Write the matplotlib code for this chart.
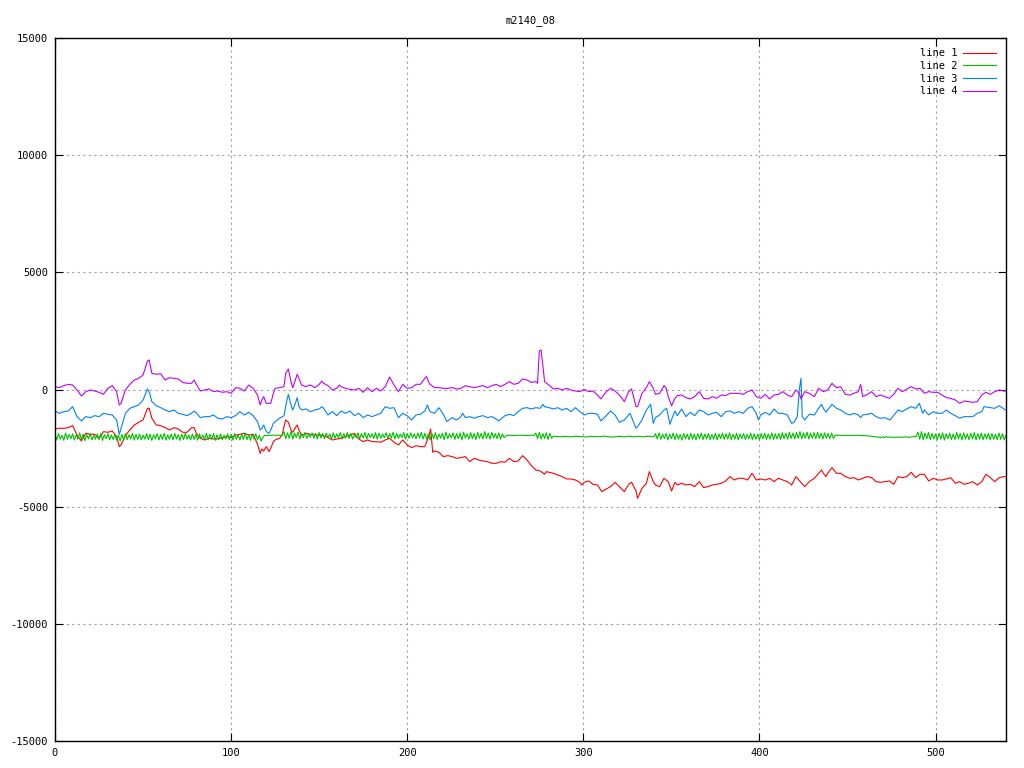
import matplotlib
matplotlib.use("Agg")
import matplotlib.pyplot as plt
import numpy as np

plt.rcParams['font.family'] = ['DejaVu Sans Mono']
plt.rcParams['font.size'] = 7.5
plt.rcParams['axes.unicode_minus'] = False

title = "m2140_08"
labels = ["line 1", "line 2", "line 3", "line 4"]
colors = ["#ff0000", "#00c000", "#0080ff", "#c000ff"]

# line 1 (red), (x, value)
red_pts = [
    (0, -1684), (2.5, -1656), (5, -1656), (7.5, -1628), (10, -1542), (12.5, -1940), (15, -2197),
    (17.5, -1869), (20, -1912), (22.5, -1912), (25, -2083), (27.5, -1798), (30, -1827),
    (32.5, -1770), (35, -2012), (36.5, -2438), (37.5, -2367), (40, -1969), (42.5, -1727),
    (45, -1514), (47.5, -1400), (50, -1300), (52.5, -803), (53.5, -803), (55, -1229),
    (57.5, -1514), (60, -1542), (62.5, -1628), (65, -1727), (67.5, -1628), (70, -1684),
    (72.5, -1827), (75, -1827), (77.5, -1628), (79, -1628), (80.5, -1912), (82.5, -2083),
    (85, -2154), (87.5, -2083), (90, -2111), (92.5, -2111), (95, -2054), (97.5, -2012),
    (100, -2054), (102.5, -1940),
    (105, -1912), (107.5, -1869), (110, -1940), (112.5, -1912), (115, -2339), (116.5, -2722),
    (117.5, -2538), (118.5, -2623), (120, -2438), (121.5, -2651), (122.5, -2509), (124, -2225),
    (125, -2154), (127.5, -2083), (129, -1940), (130, -1585), (131, -1300), (132.5, -1400),
    (134, -1727), (135, -1827), (136.5, -1628), (137.5, -1514), (138.5, -1727), (140, -1969),
    (142.5, -1869), (145, -1912), (147.5, -1940), (150, -1940), (152.5, -1969), (155, -2054),
    (157.5, -2154), (160, -2111), (162.5, -2083), (165, -2012), (167.5, -1940), (170, -1869),
    (172.5, -2111), (175, -2225), (177.5, -2154), (180, -2225), (182.5, -2225), (185, -2253),
    (187.5, -2154), (190, -2083), (192.5, -2253), (195, -2367), (197.5, -2154), (200, -2367),
    (202.5, -2481), (205, -2396), (207.5, -2438), (210, -2438), (212.5, -1940), (213.3, -1684),
    (214.5, -2680), (215.5, -2623), (218, -2680), (220.5, -2865), (223, -2822), (225.5, -2865),
    (228, -2936), (230.5, -2907), (233, -2865), (235.5, -3078), (238, -2936), (240.5, -3007),
    (243, -3050), (245.5, -3078), (248, -3149), (250.5, -3149), (253, -3078), (255.5, -3107),
    (258, -2936), (260.5, -3078), (263, -3050), (265.5, -2822), (268, -3007), (270.5, -3249),
    (273, -3434), (275.5, -3477), (278, -3619), (279, -3505), (280.5, -3533), (283, -3576),
    (285.5, -3647), (288, -3718), (290.5, -3818), (293, -3818), (295.5, -3861), (298, -3960),
    (299, -4073), (300.5, -3960), (303, -3903), (305.5, -4045), (308, -4073), (310.5, -4358),
    (313, -4244), (315.5, -4145), (318, -3960), (320.5, -4145),
    (323.3, -4358), (325.7, -4045), (327.4, -3960), (329.9, -4329), (330.8, -4642),
    (333.3, -4216), (335.8, -4002), (337.5, -3505), (339.7, -3932), (340.9, -4073),
    (343.3, -4145), (345.8, -3789), (348.2, -3932), (350.1, -4329), (352, -3960), (353.4, -4073),
    (355.8, -4002), (358.3, -4073), (360.7, -4045), (363.2, -4145), (365.9, -3932),
    (368.3, -4187), (370.8, -4145), (373.2, -4073), (375.7, -4045), (378.3, -4002),
    (380.8, -3903), (383.3, -3718), (385.7, -3861), (388.2, -3789), (390.8, -3789),
    (393.3, -3861), (395.8, -3576), (398.2, -3861), (400.7, -3818), (403.3, -3861),
    (405.8, -3789), (408.3, -3932), (410.7, -3789), (413.2, -3861), (415.8, -3932),
    (418.3, -4073), (420.7, -3718), (423.2, -3932), (425.7, -4145), (428.3, -3932),
    (431.2, -3789), (433.6, -3576), (435.3, -3434), (436.3, -3576), (437.8, -3718),
    (438.7, -3576), (441.2, -3334), (443.7, -3576), (446.1, -3576), (448.8, -3718),
    (451.2, -3789), (453.7, -3761), (456.1, -3861), (458.6, -3789), (461.3, -3718),
    (463.7, -3761), (466.2, -3932), (468.6, -3960), (471.1, -3932), (473.8, -3903),
    (476.2, -4045), (478.7, -3718), (481.1, -3761), (483.6, -3718), (486.2, -3533),
    (488.7, -3761), (491.2, -3619), (493.6, -3619), (496.1, -3903), (498.7, -3789),
    (501.2, -3861), (503.7, -3861), (506.1, -3818), (508.6, -3761), (511.2, -4002),
    (513.7, -3932), (516.2, -4045), (518.6, -4002), (521.1, -3932), (523.7, -4073),
    (526.2, -3932), (528.6, -3619), (531.1, -3761), (533.6, -3932), (536.2, -3761),
    (538.7, -3718), (540, -3718),
]

# line 2 (green), one value per step
green_y = [
    -1900, -2150, -1880, -2120, -1950, -2170, -1860, -2130, -1920, -2100, -1890, -2160, -1940, -2120, -1850, -2140, -1910, -2180, -1930, -2110,
    -1880, -2150, -1960, -2120, -1900, -2140, -1870, -2170, -1920, -2100, -1890, -2150, -1940, -2130, -1910, -2160, -1950, -2200, -1920, -2150,
    -1890, -2140, -1930, -2110, -1870, -2160, -1920, -2130, -1900, -2150, -1950, -2120, -1880, -2140, -1910, -2170, -1930, -2110, -1890, -2150,
    -1920, -2130, -1870, -2160, -1940, -2120, -1900, -2150, -1880, -2110, -1930, -2170, -1910, -2140, -1860, -2120, -1950, -2150, -1900, -2130,
    -1920, -2160, -1890, -2110, -1940, -2140, -1870, -2150, -1910, -2120, -1880, -2170, -1930, -2130, -1900, -2150, -1950, -2110, -1890, -2140,
    -1920, -2160, -1880, -2120, -1940, -2150, -1910, -2130, -1860, -2140, -1930, -2170, -1900, -2120, -1890, -2150, -1950, -2200, -2050,
    -1960, -1960, -1955, -1955, -1950, -1950, -1950, -1950, -1955, -1955, -1960,
    -1800, -2100, -1850, -2080, -1780, -2120, -1860, -2050, -1820, -2110, -1880, -2060, -1830, -2090, -1900, -2040, -1850, -2080, -1870, -2110,
    -1840, -2070, -1880, -2100, -1860, -2050, -1900, -2120, -1850, -2080, -1890, -2060, -1840, -2110, -1880, -2070, -1830, -2090, -1870, -2120,
    -1900, -2060, -1850, -2100, -1880, -2070, -1830, -2110, -1870, -2050, -1890, -2090, -1840, -2120, -1860, -2080, -1900, -2060, -1850, -2100,
    -1880, -2070, -1820, -2110, -1870, -2090, -1900, -2050, -1840, -2120, -1880, -2080, -1850, -2060, -1890, -2100, -1860, -2070, -1830, -2110,
    -1870, -2120, -1900, -2150, -1880, -2100, -1840, -2130, -1900, -2080, -1870, -2140, -1820, -2100, -1890, -2060, -1850, -2130, -1880, -2090,
    -1860, -2150, -1820, -2070, -1890, -2120, -1840, -2100, -1880, -2140, -1830, -2080, -1870, -2110, -1800, -2090, -1860, -2120, -1830, -2070,
    -1880, -2100, -1850, -2120, -1890, -2060, -1980,
    -1960, -1950, -1955, -1960, -1965, -1960, -1955, -1950, -1955, -1960, -1960, -1965, -1960, -1955, -1950, -1960,
    -1860, -2100, -1830, -2120, -1880, -2090, -1850, -2130, -1870, -2080, -1990,
    -2000, -2010, -2010, -2020, -2010, -2000, -2000, -2010, -2020, -2020, -2010, -2000, -1990, -2000, -2010, -2010, -2020, -2030, -2020, -2010,
    -2000, -2000, -2010, -2010, -2020, -2010, -2000, -1990, -1990, -2000, -2010, -2020, -2030, -2030, -2020, -2010, -2000, -2000, -2010, -2020,
    -2010, -2000, -1990, -2000, -2010, -2020, -2010, -2000, -2000, -2010, -2020, -2010, -2000, -1990, -2000, -2010, -2020,
    -1880, -2110, -1850, -2130, -1900, -2090, -1870, -2150, -1910, -2100, -1860, -2140, -1890, -2120, -1920, -2160, -1880, -2110, -1900, -2140,
    -1870, -2120, -1910, -2150, -1890, -2100, -1860, -2130, -1900, -2110, -1880, -2140, -1920, -2120, -1870, -2150, -1900, -2100, -1860, -2130,
    -1890, -2110, -1850, -2140, -1910, -2120, -1870, -2150, -1900, -2100, -1880, -2130, -1920, -2110, -1860, -2140, -1890, -2120, -1910, -2150,
    -1880, -2100, -1870, -2130, -1900, -2120, -1850, -2140, -1890, -2110, -1880, -2130, -1840, -2100, -1870, -2120, -1820, -2090, -1860, -2110,
    -1830, -2080, -1800, -2100, -1850, -2070, -1820, -2110, -1860, -2080, -1840, -2100, -1830, -2090, -1870, -2110, -1850, -2080, -1880, -2100,
    -1860, -2090, -1950,
    -1950, -1955, -1960, -1960, -1965, -1960, -1955, -1960, -1960, -1965, -1960, -1960, -1955, -1960, -1965, -1970, -1970, -1975, -1980, -1990,
    -2000, -2010, -2020, -2030,
    -2030, -2060, -2020, -2050, -2010, -2040, -2030, -2030, -2040, -2040, -2030, -2030, -2040, -2040, -2030, -2020, -2030, -2040, -2030, -2020,
    -2010, -2000,
    -1820, -2120, -1800, -2150, -1860, -2100, -1830, -2140, -1880, -2110, -1900, -2150, -1870, -2120, -1850, -2160, -1890, -2100, -1860, -2140,
    -1900, -2130, -1830, -2110, -1880, -2150, -1850, -2120, -1900, -2140, -1870, -2110, -1840, -2150, -1890, -2120, -1860, -2140, -1900, -2110,
    -1870, -2150, -1880, -2120, -1910, -2140, -1860, -2130, -1890, -2150, -1950,
]
green_x = list(range(len(green_y)))

# line 3 (blue), (x, value)
blue_pts = [
    (0, -917), (2.5, -1016), (5, -945), (7.5, -917), (10, -732), (12.5, -1158), (15, -1343),
    (17.5, -1158), (20, -1201), (22.5, -1116), (25, -1158), (27.5, -1016), (30, -1059),
    (32.5, -1087), (35, -1300), (36.5, -1912), (37.5, -1656), (40, -1016), (42.5, -803),
    (45, -732), (47.5, -661), (50, -447), (52.5, 22), (53.5, -92), (55, -519), (57.5, -690),
    (60, -775), (62.5, -874), (65, -945), (67.5, -874), (70, -1016), (72.5, -1059), (75, -1116),
    (77.5, -1016), (79, -917), (80.5, -1016), (82.5, -1201), (85, -1158), (87.5, -1158),
    (90, -1087), (92.5, -1229), (95, -1258), (97.5, -1158), (100, -1201), (102.5, -1116),
    (105, -945), (107.5, -1087), (110, -973), (112.5, -1116), (115, -1371), (116.5, -1727),
    (117.5, -1656), (118.5, -1514), (120, -1798), (121.5, -1869), (122.5, -1727), (124, -1443),
    (125, -1371), (127.5, -1229), (130, -1116), (131.5, -519), (132.5, -206), (134, -661),
    (135, -874), (136.5, -590), (137.5, -348), (138.5, -732), (140, -874), (142.5, -831),
    (145, -945), (147.5, -874), (150, -831), (151.5, -732), (152.5, -803), (155, -1087),
    (157.5, -945), (160, -1116), (162.5, -917), (165, -1016), (167.5, -917), (170, -1116),
    (172.5, -1016), (175, -1201), (177.5, -1087), (180, -1158), (182.5, -1087), (185, -1016),
    (187.5, -732), (190, -803), (192.5, -775), (195, -1201), (197.5, -1016), (200, -1116),
    (202.5, -1300), (205, -1087), (207.5, -1059), (210, -917), (211.5, -661), (212.5, -874),
    (213, -945), (215.5, -1016), (218, -775), (220.5, -1059), (222.5, -1371), (225.5, -1201),
    (228, -1300), (230.5, -1158), (231.5, -1016), (233, -1201), (235.5, -1158), (238, -1229),
    (240.5, -1158), (243, -1116), (245.5, -1201), (248, -1158), (250.5, -1258), (252, -1343),
    (255.5, -1116), (258, -1059), (260.5, -1116), (263, -945), (265.5, -803), (268, -775),
    (270.5, -831), (273, -775), (275.5, -803), (277, -633), (278, -732), (280.5, -775),
    (283, -831), (285.5, -775), (288, -874), (290.5, -803), (293, -945), (295.5, -775),
    (298, -945), (300.5, -1087), (303, -1016), (305.5, -1016), (308, -1059), (310, -1343),
    (313, -1116), (315.5, -917), (318, -1087), (320.5, -1400),
    (323.3, -1300), (326.5, -1016), (328.4, -1371), (329.9, -1656), (330.8, -1585),
    (333.3, -1300), (335.8, -874), (338.2, -633), (339.7, -1443), (340.9, -1201),
    (343.3, -1087), (345.8, -874), (347.3, -803), (349.2, -1485), (350.7, -1158), (352, -917),
    (353.4, -1116), (355.8, -831), (358.3, -1158), (360.7, -973), (363.2, -1116), (365.9, -874),
    (368.3, -945), (370.8, -1087), (373.2, -1016), (375.7, -973), (378.3, -1158), (380.8, -945),
    (383.3, -917), (385.7, -1016), (388.2, -945), (390.8, -1016), (393.3, -803), (395.8, -732),
    (398.2, -1016), (399.4, -1300), (400.7, -1087), (403.3, -973), (405.8, -1087),
    (408.3, -831), (410.7, -1016), (413.2, -1016), (415.8, -1087), (418.3, -1443),
    (419.6, -1400), (421.5, -1158), (422.6, -21), (423.6, 477), (424.3, -1158), (425.7, -1300),
    (428.3, -1059),
    (431.2, -1087), (433.6, -803), (435.3, -633), (436.3, -803), (437.8, -973), (438.7, -874),
    (441.2, -633), (443.7, -803), (446.1, -874), (448.8, -1016), (451.2, -1087), (453.7, -1016),
    (456.1, -1087), (457.5, -1201), (458.6, -1087), (461.3, -1059), (463.7, -1016),
    (466.2, -1158), (468.6, -1229), (471.1, -1201), (474.1, -1300), (476.2, -1116),
    (478.7, -874), (481.1, -945), (483.6, -831), (486.2, -732), (488.7, -803), (490.8, -590),
    (492.7, -1016), (493.6, -874), (496.1, -1087), (498.7, -945), (501.2, -1016),
    (503.7, -1016), (506.1, -874), (508.6, -1016), (511.2, -1116), (513.7, -1229),
    (516.2, -1158), (518.6, -1158), (521.1, -1158), (523.7, -1016), (526.2, -945),
    (527.5, -732), (531.1, -775), (533.6, -803), (536.2, -690), (538.7, -831), (540, -874),
]

# line 4 (purple), (x, value)
purple_pts = [
    (0, 121), (2.5, 79), (5, 164), (7.5, 221), (10, 192), (12.5, -21), (15, -277), (17.5, -92),
    (20, -21), (22.5, -63), (25, -120), (27.5, -205), (30, 50), (32.5, 164), (35, -92),
    (36.5, -661), (37.5, -590), (40, -21), (42.5, 221), (45, 406), (47.5, 477), (50, 619),
    (52.5, 1216), (53.5, 1259), (55, 690), (57.5, 648), (60, 676), (62.5, 406), (65, 505),
    (67.5, 477), (70, 449), (72.5, 306), (75, 264), (77.5, 264), (79, 406), (80.5, 192),
    (82.5, -63), (85, -21), (87.5, 22), (90, -92), (92.5, -63), (95, -120), (97.5, -92),
    (100, -163), (102.5, 79),
    (105, 50), (107.5, -63), (110, 192), (112.5, 50), (115, -234), (116.5, -661), (117.5, -447),
    (118.5, -305), (120, -590), (122.5, -590), (124, -163), (125, 50), (127.5, 79), (130, 121),
    (131, 690), (132.5, 875), (134, 334), (135, 79), (136.5, 406), (137.5, 648), (138.5, 477),
    (140, 192), (142.5, 121), (145, 192), (147.5, 79), (150, 221), (151.5, 363), (152.5, 264),
    (155, 164), (157.5, -21), (160, 50), (161.5, 192), (162.5, 121), (165, 50), (167.5, 8),
    (170, -21), (172.5, 50), (175, -120), (177.5, 79), (180, -92), (182.5, 50), (185, -63),
    (187.5, 121), (190, 534), (192.5, 192), (195, -92), (197.5, 221), (200, 50), (202.5, 79),
    (205, 221), (207.5, 221), (210, 477), (211, 548), (212.5, 264),
    (213, 221), (215.5, 79), (218, 79), (220.5, 50), (223, 50), (225.5, 79), (228, 22),
    (230.5, 50), (233, 164), (235.5, 121), (238, 79), (240.5, 121), (243, 164), (245.5, 79),
    (248, 164), (250.5, 221), (253, 121), (255.5, 221), (258, 334), (260.5, 221), (263, 264),
    (265.5, 449), (268, 406), (270.5, 306), (273, 334), (274, 264), (275, 1643), (276, 1686),
    (277, 1046), (278, 334), (280.5, 192), (283, 22), (285.5, 50), (288, -21), (290.5, 50),
    (293, -21), (295.5, -63), (298, -92), (300.5, 8), (303, -92), (305.5, -63), (308, -234),
    (310, -405), (313, -92), (315.5, 50), (318, -63), (320.5, -234),
    (323.3, -519), (325.7, -92), (327.4, 22), (329.9, -732), (330.8, -732), (333.3, -163),
    (335.8, 79), (337.5, 334), (339.7, 50), (340.9, -206), (343.3, -163), (345.8, 164),
    (346.9, 79), (348.2, -305), (350.1, -689), (352, -376), (353.4, -262), (355.8, -234),
    (358.3, -348), (360.7, -405), (363.2, -305), (365.9, -92), (368.3, -376), (370.8, -405),
    (373.2, -305), (375.7, -376), (378.3, -234), (380.8, -262), (383.3, -163), (385.7, -163),
    (388.2, -163), (390.8, -206), (393.3, -92), (395.8, -21), (398.2, -305), (400.7, -376),
    (403.3, -206), (405.8, -405), (408.3, -234), (410.7, -206), (413.2, -92), (415.8, -234),
    (418.3, -305), (420.7, -21), (422.6, -163), (423.6, -405), (425.7, -92), (428.3, -163),
    (431.2, -305), (433.6, 50), (436.3, -92), (438.7, -21), (441.2, 264), (443.7, 79),
    (446.1, 121), (448.8, -206), (451.2, -234), (453.7, -163), (456.1, -92), (457.5, 221),
    (458.6, -305), (461.3, -206), (463.7, -92), (466.2, -305), (468.6, -234), (471.1, -305),
    (473.8, -376), (476.2, -206), (478.7, 50), (481.1, -92), (483.6, 22), (486.2, 121),
    (488.7, 22), (491.2, 50), (493.6, -163), (496.1, -92), (498.7, -120), (501.2, -120),
    (503.7, -234), (506.1, -348), (508.6, -376), (511.2, -447), (513.7, -590), (516.2, -490),
    (518.6, -519), (521.1, -547), (523.7, -519), (526.2, -234), (528.6, -120), (531.1, -206),
    (533.6, -92), (536.2, -21), (538.7, -63), (540, -63),
]

fig = plt.figure(figsize=(10.24, 7.68), dpi=100)
ax = fig.add_axes([55 / 1024, 27 / 768, 951 / 1024, 703 / 768])

red_x, red_y = zip(*red_pts)
blue_x, blue_y = zip(*blue_pts)
purple_x, purple_y = zip(*purple_pts)

series = [(red_x, red_y), (green_x, green_y), (blue_x, blue_y), (purple_x, purple_y)]
for (xs, ys), lab, c in zip(series, labels, colors):
    ax.plot(xs, ys, color=c, lw=0.8, label=lab)

ax.set_xlim(0, 540)
ax.set_ylim(-15000, 15000)
ax.set_xticks([0, 100, 200, 300, 400, 500])
ax.set_yticks(np.arange(-15000, 15001, 5000))
ax.grid(True, color="#a0a0a0", linestyle=(0, (2, 3)), linewidth=0.8)
ax.tick_params(direction="in", top=True, right=True, length=6, width=0.8, pad=5)
for s in ax.spines.values():
    s.set_linewidth(1.0)

ax.set_title(title, fontsize=7.5, pad=11)
ax.legend(loc="upper right", frameon=False, markerfirst=False, handlelength=3.1,
          handletextpad=0.6, labelspacing=0.25, borderaxespad=0.6, fontsize=7.5)

fig.savefig("out.png", dpi=100)
